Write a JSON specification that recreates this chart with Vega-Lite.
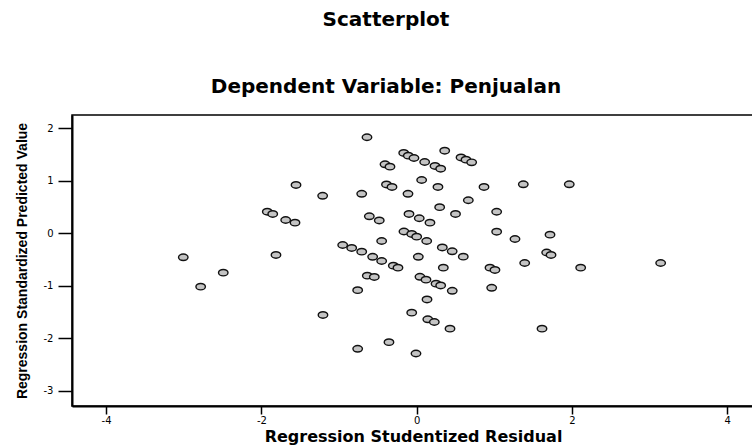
{
  "$schema": "https://vega.github.io/schema/vega-lite/v6.json",
  "width": 682,
  "height": 291,
  "autosize": {"type": "none"},
  "padding": {"left": 72, "top": 115, "right": 0, "bottom": 40},
  "background": "white",
  "title": {
    "text": "Scatterplot",
    "subtitle": "Dependent Variable: Penjualan",
    "font": "DejaVu Sans",
    "fontSize": 20,
    "fontWeight": "bold",
    "color": "black",
    "subtitleFont": "DejaVu Sans",
    "subtitleFontSize": 20,
    "subtitleFontWeight": "bold",
    "subtitleColor": "black",
    "subtitlePadding": 47,
    "offset": 18,
    "dx": -27,
    "anchor": "middle"
  },
  "config": {
    "view": {"stroke": "black", "strokeWidth": 1.5},
    "axis": {
      "grid": false,
      "domainColor": "black",
      "domainWidth": 2,
      "tickColor": "black",
      "tickWidth": 1.5,
      "labelColor": "black",
      "labelFont": "DejaVu Sans",
      "labelFontSize": 10,
      "titleColor": "black",
      "titleFontWeight": "bold"
    }
  },
  "data": {
    "values": [
      {"resid": -0.640, "pred": 1.829},
      {"resid": -0.167, "pred": 1.530},
      {"resid": -0.108, "pred": 1.478},
      {"resid": -0.035, "pred": 1.434},
      {"resid": 0.103, "pred": 1.358},
      {"resid": 0.236, "pred": 1.282},
      {"resid": 0.309, "pred": 1.230},
      {"resid": 0.361, "pred": 1.573},
      {"resid": -0.408, "pred": 1.314},
      {"resid": -0.344, "pred": 1.269},
      {"resid": 0.571, "pred": 1.444},
      {"resid": 0.635, "pred": 1.402},
      {"resid": 0.708, "pred": 1.352},
      {"resid": 0.064, "pred": 1.015},
      {"resid": 0.274, "pred": 0.882},
      {"resid": 0.867, "pred": 0.882},
      {"resid": 1.373, "pred": 0.933},
      {"resid": 1.965, "pred": 0.933},
      {"resid": -0.389, "pred": 0.930},
      {"resid": -0.318, "pred": 0.882},
      {"resid": -1.211, "pred": 0.714},
      {"resid": -0.708, "pred": 0.752},
      {"resid": -0.112, "pred": 0.752},
      {"resid": 0.296, "pred": 0.497},
      {"resid": 0.500, "pred": 0.368},
      {"resid": 0.665, "pred": 0.629},
      {"resid": 1.030, "pred": 0.410},
      {"resid": -0.610, "pred": 0.324},
      {"resid": -0.482, "pred": 0.244},
      {"resid": -0.099, "pred": 0.368},
      {"resid": 0.033, "pred": 0.286},
      {"resid": 0.171, "pred": 0.202},
      {"resid": -0.164, "pred": 0.034},
      {"resid": -0.064, "pred": -0.013},
      {"resid": 0.000, "pred": -0.065},
      {"resid": 0.129, "pred": -0.147},
      {"resid": 1.030, "pred": 0.030},
      {"resid": 1.266, "pred": -0.109},
      {"resid": 1.717, "pred": -0.027},
      {"resid": -0.451, "pred": -0.147},
      {"resid": -1.554, "pred": 0.920},
      {"resid": -1.924, "pred": 0.411},
      {"resid": -1.854, "pred": 0.368},
      {"resid": -1.687, "pred": 0.253},
      {"resid": -1.567, "pred": 0.202},
      {"resid": -3.006, "pred": -0.457},
      {"resid": -1.812, "pred": -0.413},
      {"resid": -0.953, "pred": -0.223},
      {"resid": -0.837, "pred": -0.280},
      {"resid": -0.708, "pred": -0.350},
      {"resid": -0.567, "pred": -0.448},
      {"resid": -0.451, "pred": -0.528},
      {"resid": -0.301, "pred": -0.617},
      {"resid": -0.241, "pred": -0.655},
      {"resid": -2.491, "pred": -0.750},
      {"resid": -2.782, "pred": -1.017},
      {"resid": -0.636, "pred": -0.808},
      {"resid": -0.546, "pred": -0.832},
      {"resid": -0.760, "pred": -1.084},
      {"resid": -1.207, "pred": -1.556},
      {"resid": -0.064, "pred": -1.512},
      {"resid": -0.760, "pred": -2.200},
      {"resid": -0.357, "pred": -2.074},
      {"resid": 0.021, "pred": -0.448},
      {"resid": 0.330, "pred": -0.270},
      {"resid": 0.457, "pred": -0.343},
      {"resid": 0.600, "pred": -0.446},
      {"resid": 0.343, "pred": -0.655},
      {"resid": 0.944, "pred": -0.655},
      {"resid": 1.008, "pred": -0.699},
      {"resid": 1.391, "pred": -0.566},
      {"resid": 1.674, "pred": -0.366},
      {"resid": 1.730, "pred": -0.413},
      {"resid": 2.112, "pred": -0.655},
      {"resid": 3.142, "pred": -0.566},
      {"resid": 0.042, "pred": -0.829},
      {"resid": 0.120, "pred": -0.884},
      {"resid": 0.249, "pred": -0.960},
      {"resid": 0.309, "pred": -0.994},
      {"resid": 0.458, "pred": -1.095},
      {"resid": 0.966, "pred": -1.038},
      {"resid": 0.133, "pred": -1.261},
      {"resid": 0.143, "pred": -1.638},
      {"resid": 0.227, "pred": -1.690},
      {"resid": 0.429, "pred": -1.817},
      {"resid": 1.614, "pred": -1.817},
      {"resid": -0.009, "pred": -2.290}
    ]
  },
  "mark": {
    "type": "point",
    "shape": "M-1,0A1,0.68,0,1,0,1,0A1,0.68,0,1,0,-1,0Z",
    "filled": true,
    "fill": "#c4c4c4",
    "stroke": "#111111",
    "strokeWidth": 1.4,
    "size": 90,
    "opacity": 1
  },
  "encoding": {
    "x": {
      "field": "resid",
      "type": "quantitative",
      "scale": {"domain": [-4.439, 4.344], "nice": false, "zero": false},
      "axis": {
        "title": "Regression Studentized Residual",
        "values": [-4, -2, 0, 2, 4],
        "labelExpr": "toString(datum.value)",
        "tickSize": 8,
        "labelPadding": 1,
        "titleFont": "DejaVu Sans",
        "titleFontSize": 16,
        "titlePadding": 3
      }
    },
    "y": {
      "field": "pred",
      "type": "quantitative",
      "scale": {"domain": [-3.29, 2.253], "nice": false, "zero": false},
      "axis": {
        "title": "Regression Standardized Predicted Value",
        "values": [-3, -2, -1, 0, 1, 2],
        "labelExpr": "toString(datum.value)",
        "tickSize": 14,
        "labelPadding": 5,
        "titleFont": "Liberation Sans",
        "titleFontSize": 14,
        "titlePadding": 14
      }
    }
  }
}
